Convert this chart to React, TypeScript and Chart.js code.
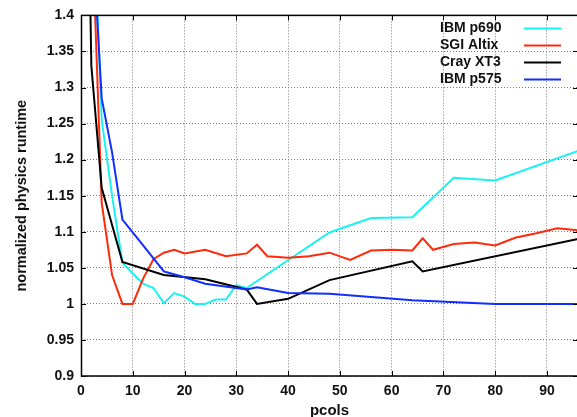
import React, { useEffect, useRef } from "react";
import { Chart, registerables } from "chart.js";

Chart.register(...registerables);

// ---- data ----
const p690X = [2, 4, 6, 8, 10, 12, 14, 16, 18, 20, 22, 24, 26, 28, 30, 32, 48, 56, 64, 72, 80, 96];
const p690Y = [1.62, 1.255, 1.15, 1.057, 1.042, 1.028, 1.022, 1.001, 1.015, 1.01, 1.0, 1.0, 1.006, 1.006, 1.026, 1.022, 1.099, 1.119, 1.12, 1.175, 1.171, 1.212];

const altixX = [2, 4, 6, 8, 10, 12, 14, 16, 18, 20, 24, 28, 32, 34, 36, 40, 44, 48, 52, 56, 60, 64, 66, 68, 72, 76, 80, 84, 88, 92, 96];
const altixY = [1.55, 1.14, 1.04, 1.0, 1.0, 1.035, 1.062, 1.071, 1.075, 1.07, 1.075, 1.066, 1.07, 1.082, 1.066, 1.064, 1.066, 1.071, 1.061, 1.074, 1.075, 1.074, 1.091, 1.075, 1.083, 1.085, 1.081, 1.092, 1.098, 1.105, 1.102];

const xt3X = [1, 2, 4, 8, 16, 24, 32, 34, 40, 48, 64, 66, 96];
const xt3Y = [1.75, 1.33, 1.161, 1.058, 1.04, 1.034, 1.02, 1.0, 1.007, 1.033, 1.059, 1.045, 1.09];

const p575X = [2, 4, 6, 8, 12, 16, 20, 24, 32, 34, 40, 48, 64, 80, 96];
const p575Y = [1.54, 1.285, 1.21, 1.117, 1.081, 1.045, 1.037, 1.028, 1.02, 1.023, 1.015, 1.014, 1.005, 1.0, 1.0];

const seriesLabels = ["IBM p690", "SGI Altix", "Cray XT3", "IBM p575"];
const seriesColors = ["#1af2f2", "#ff2a0a", "#000000", "#0f2eff"];

const xTickValues = [0, 10, 20, 30, 40, 50, 60, 70, 80, 90];
const yTickValues = [0.9, 0.95, 1.0, 1.05, 1.1, 1.15, 1.2, 1.25, 1.3, 1.35, 1.4];

const xTitle = "pcols";
const yTitle = "normalized physics runtime";

const FONT = '"Liberation Sans", Arial, Helvetica, sans-serif';

function pts(xs: number[], ys: number[]) {
  return xs.map((x, i) => ({ x, y: ys[i] }));
}

export default function App() {
  const ref = useRef<HTMLCanvasElement>(null);

  useEffect(() => {
    const canvas = ref.current;
    if (!canvas) return;

    const allX = [p690X, altixX, xt3X, p575X];
    const allY = [p690Y, altixY, xt3Y, p575Y];

    const framePlugin = {
      id: "frame",
      afterDatasetsDraw(chart: any) {
        const { ctx, chartArea } = chart;
        const xs = chart.scales.x;
        const ys = chart.scales.y;
        ctx.save();
        ctx.strokeStyle = "#000";
        ctx.lineWidth = 1;
        const tl = 5;
        ctx.beginPath();
        xTickValues.forEach((v) => {
          const px = Math.round(xs.getPixelForValue(v)) + 0.5;
          ctx.moveTo(px, chartArea.bottom);
          ctx.lineTo(px, chartArea.bottom - tl);
          ctx.moveTo(px, chartArea.top);
          ctx.lineTo(px, chartArea.top + tl);
        });
        yTickValues.forEach((v) => {
          const py = Math.round(ys.getPixelForValue(v)) + 0.5;
          ctx.moveTo(chartArea.left, py);
          ctx.lineTo(chartArea.left + tl, py);
          ctx.moveTo(chartArea.right, py);
          ctx.lineTo(chartArea.right - tl, py);
        });
        ctx.stroke();
        ctx.lineWidth = 1.5;
        ctx.strokeRect(chartArea.left + 0.5, chartArea.top, chartArea.right - chartArea.left, chartArea.bottom - chartArea.top);
        ctx.restore();
      },
      afterDraw(chart: any) {
        const { ctx, chartArea } = chart;
        ctx.save();
        ctx.font = `bold 14px ${FONT}`;
        ctx.textBaseline = "middle";
        ctx.textAlign = "left";
        chart.data.datasets.forEach((ds: any, i: number) => {
          const y = chartArea.top + 13 + i * 17;
          ctx.fillStyle = "#111";
          ctx.fillText(ds.label, chartArea.right - 138, y);
          ctx.strokeStyle = ds.borderColor;
          ctx.lineWidth = 2;
          ctx.beginPath();
          ctx.moveTo(chartArea.right - 54, y);
          ctx.lineTo(chartArea.right - 17, y);
          ctx.stroke();
        });
        ctx.restore();
      },
    };

    const gridOpts = {
      color: "#7a7a7a",
      lineWidth: 1,
      drawTicks: false,
    };

    const chart = new Chart(canvas, {
      type: "line",
      data: {
        datasets: seriesLabels.map((label, i) => ({
          label,
          data: pts(allX[i], allY[i]),
          borderColor: seriesColors[i],
          backgroundColor: seriesColors[i],
          borderWidth: 2,
          pointRadius: 0,
          tension: 0,
          fill: false,
          order: 3 - i,
        })),
      },
      options: {
        responsive: false,
        animation: false,
        events: [],
        layout: { padding: { top: 14, left: 0, right: 0, bottom: 0 } },
        plugins: {
          legend: { display: false },
          tooltip: { enabled: false },
        },
        scales: {
          x: {
            type: "linear",
            min: 0,
            max: 96,
            afterBuildTicks: (s: any) => {
              s.ticks = xTickValues.map((v) => ({ value: v }));
            },
            afterFit: (s: any) => {
              s.height = 41;
            },
            grid: gridOpts,
            border: { display: false, dash: [1, 2] },
            ticks: {
              font: { size: 14, weight: "bold", family: FONT },
              color: "#111",
              padding: 7,
              maxRotation: 0,
              autoSkip: false,
              callback: (v: any) => String(v),
            },
            title: {
              display: true,
              text: xTitle,
              color: "#111",
              font: { size: 15, weight: "bold", family: FONT, lineHeight: 1 },
              padding: { top: 0, bottom: -1 },
            },
          },
          y: {
            type: "linear",
            min: 0.9,
            max: 1.4,
            afterBuildTicks: (s: any) => {
              s.ticks = yTickValues.map((v) => ({ value: v }));
            },
            afterFit: (s: any) => {
              s.width = 81;
            },
            grid: gridOpts,
            border: { display: false, dash: [1, 2] },
            ticks: {
              font: { size: 14, weight: "bold", family: FONT },
              color: "#111",
              padding: 7,
              autoSkip: false,
              callback: (v: any) => String(Number(Number(v).toFixed(2))),
            },
            title: {
              display: true,
              text: yTitle,
              color: "#111",
              font: { size: 14.5, weight: "bold", family: FONT, lineHeight: 1 },
              padding: { top: 15, bottom: 0 },
            },
          },
        },
      },
      plugins: [framePlugin],
    } as any);

    return () => chart.destroy();
  }, []);

  return (
    <div
      style={{
        position: "fixed",
        left: 0,
        top: 0,
        width: 577,
        height: 417,
        overflow: "hidden",
        background: "#fff",
      }}
    >
      <canvas ref={ref} width={578} height={417} style={{ width: 578, height: 417, display: "block" }} />
    </div>
  );
}
